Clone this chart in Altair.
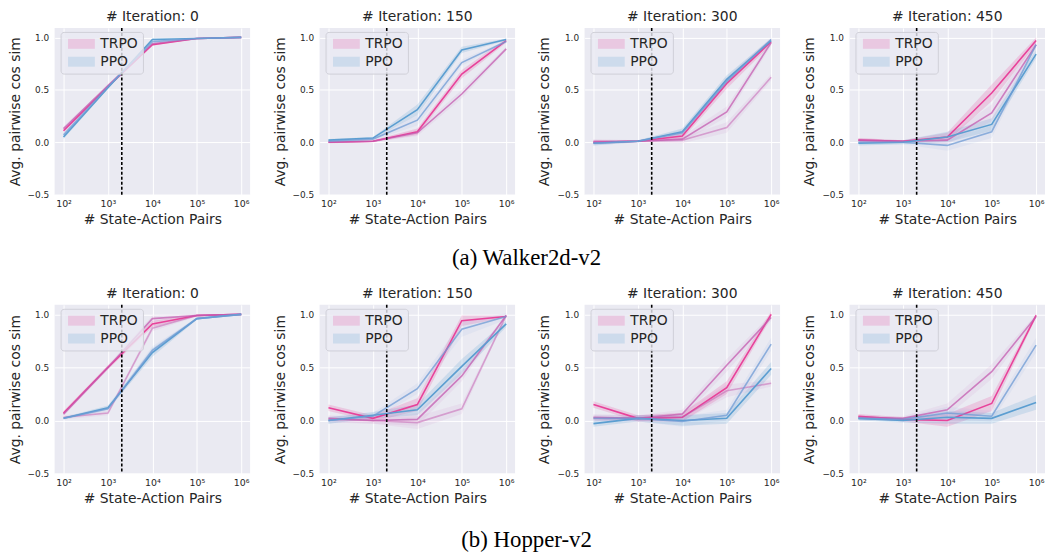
import altair as alt
import pandas as pd

# x positions: number of state-action pairs
X = [100, 1000, 10000, 100000, 1000000]
X_TICKS = [100, 1000, 10000, 100000, 1000000]
Y_TICKS = [-0.5, 0.0, 0.5, 1.0]
VLINE_X = [2048]
ALGOS = ["TRPO", "PPO"]
KEYS = ["TRPO", "PPO", "TRPO_2", "PPO_2"]
COLORS = ["#E8429A", "#5B9ED1", "#C45CB0", "#6F9BD4"]
ITERS = [0, 150, 300, 450]
CAPTIONS = ["(a) Walker2d-v2", "(b) Hopper-v2"]

# ---------------- Walker2d-v2 ----------------
W0_TRPO = [0.11, 0.53, 0.93, 0.99, 1.00]
W0_TRPO_2 = [0.13, 0.54, 0.94, 0.99, 1.00]
W0_TRPO_B = [0.02, 0.01, 0.01, 0.00, 0.00]
W0_PPO = [0.05, 0.52, 0.98, 0.99, 1.00]
W0_PPO_2 = [0.07, 0.53, 0.96, 0.99, 1.00]
W0_PPO_B = [0.02, 0.01, 0.01, 0.00, 0.00]

W150_TRPO = [0.00, 0.01, 0.10, 0.65, 0.97]
W150_TRPO_2 = [0.00, 0.01, 0.09, 0.46, 0.89]
W150_TRPO_B = [0.01, 0.01, 0.03, 0.04, 0.02]
W150_PPO = [0.02, 0.04, 0.31, 0.88, 0.98]
W150_PPO_2 = [0.01, 0.03, 0.21, 0.76, 0.96]
W150_PPO_B = [0.01, 0.01, 0.05, 0.03, 0.01]

W300_TRPO = [0.00, 0.01, 0.06, 0.56, 0.96]
W300_TRPO_2 = [0.00, 0.01, 0.03, 0.29, 0.95]
W300_TRPO_3 = [0.01, 0.01, 0.02, 0.14, 0.62]
W300_TRPO_B = [0.02, 0.01, 0.03, 0.05, 0.03]
W300_PPO = [-0.01, 0.01, 0.10, 0.60, 0.97]
W300_PPO_2 = [-0.01, 0.01, 0.09, 0.58, 0.98]
W300_PPO_B = [0.02, 0.01, 0.03, 0.04, 0.02]

W450_TRPO = [0.02, 0.01, 0.05, 0.47, 0.97]
W450_TRPO_2 = [0.02, 0.01, 0.02, 0.28, 0.93]
W450_TRPO_B = [0.02, 0.01, 0.04, 0.08, 0.03]
W450_PPO = [-0.01, 0.00, 0.05, 0.17, 0.84]
W450_PPO_2 = [0.00, 0.00, -0.03, 0.10, 0.93]
W450_PPO_B = [0.02, 0.02, 0.05, 0.06, 0.04]

# ---------------- Hopper-v2 ----------------
H0_TRPO = [0.07, 0.50, 0.91, 0.99, 1.00]
H0_TRPO_2 = [0.06, 0.50, 0.96, 0.99, 1.00]
H0_TRPO_3 = [0.03, 0.07, 0.87, 0.99, 1.00]
H0_TRPO_B = [0.02, 0.02, 0.03, 0.01, 0.00]
H0_PPO = [0.02, 0.12, 0.64, 0.96, 1.00]
H0_PPO_2 = [0.02, 0.11, 0.66, 0.96, 1.00]
H0_PPO_B = [0.01, 0.02, 0.04, 0.01, 0.00]

H150_TRPO = [0.12, 0.02, 0.15, 0.94, 0.98]
H150_TRPO_2 = [0.02, 0.00, 0.01, 0.42, 0.99]
H150_TRPO_3 = [0.01, 0.00, -0.02, 0.11, 0.99]
H150_TRPO_B = [0.03, 0.03, 0.06, 0.05, 0.01]
H150_PPO = [0.00, 0.05, 0.10, 0.51, 0.91]
H150_PPO_2 = [0.00, 0.04, 0.30, 0.86, 0.98]
H150_PPO_B = [0.03, 0.03, 0.05, 0.07, 0.03]

H300_TRPO = [0.15, 0.02, 0.03, 0.31, 1.00]
H300_TRPO_2 = [0.03, 0.02, 0.06, 0.52, 0.97]
H300_TRPO_3 = [0.02, 0.02, 0.03, 0.28, 0.35]
H300_TRPO_B = [0.03, 0.03, 0.04, 0.06, 0.03]
H300_PPO = [-0.03, 0.02, 0.00, 0.02, 0.49]
H300_PPO_2 = [0.02, 0.02, -0.01, 0.05, 0.72]
H300_PPO_B = [0.03, 0.03, 0.05, 0.05, 0.06]

H450_TRPO = [0.04, 0.01, 0.00, 0.16, 0.99]
H450_TRPO_2 = [0.03, 0.02, 0.10, 0.46, 0.98]
H450_TRPO_B = [0.02, 0.02, 0.06, 0.07, 0.02]
H450_PPO = [0.02, 0.00, 0.03, 0.02, 0.17]
H450_PPO_2 = [0.02, 0.01, 0.07, 0.04, 0.71]
H450_PPO_B = [0.02, 0.02, 0.06, 0.05, 0.07]

ROWS = [
    [  # Walker2d
        [("TRPO", [W0_TRPO, W0_TRPO_2], W0_TRPO_B), ("PPO", [W0_PPO, W0_PPO_2], W0_PPO_B)],
        [("TRPO", [W150_TRPO, W150_TRPO_2], W150_TRPO_B), ("PPO", [W150_PPO, W150_PPO_2], W150_PPO_B)],
        [("TRPO", [W300_TRPO, W300_TRPO_2, W300_TRPO_3], W300_TRPO_B), ("PPO", [W300_PPO, W300_PPO_2], W300_PPO_B)],
        [("TRPO", [W450_TRPO, W450_TRPO_2], W450_TRPO_B), ("PPO", [W450_PPO, W450_PPO_2], W450_PPO_B)],
    ],
    [  # Hopper
        [("TRPO", [H0_TRPO, H0_TRPO_2, H0_TRPO_3], H0_TRPO_B), ("PPO", [H0_PPO, H0_PPO_2], H0_PPO_B)],
        [("TRPO", [H150_TRPO, H150_TRPO_2, H150_TRPO_3], H150_TRPO_B), ("PPO", [H150_PPO, H150_PPO_2], H150_PPO_B)],
        [("TRPO", [H300_TRPO, H300_TRPO_2, H300_TRPO_3], H300_TRPO_B), ("PPO", [H300_PPO, H300_PPO_2], H300_PPO_B)],
        [("TRPO", [H450_TRPO, H450_TRPO_2], H450_TRPO_B), ("PPO", [H450_PPO, H450_PPO_2], H450_PPO_B)],
    ],
]
ROW_HEIGHTS = [168, 170]
CAPTION_OFFSETS = [20, 24]

TEXT = "#262626"
FONT = "DejaVu Sans"

x_scale = alt.Scale(type="log", domain=[10 ** 1.8, 10 ** 6.2], nice=False)
y_scale = alt.Scale(domain=[-0.5, 1.09], nice=False, zero=False)
color_scale = alt.Scale(domain=KEYS, range=COLORS)

x_axis = alt.Axis(
    values=X_TICKS,
    title="# State-Action Pairs",
    labelExpr="'10' + ['⁰','¹','²','³','⁴','⁵','⁶'][round(log(datum.value)/LN10)]",
    labelFontSize=9.5,
    labelPadding=4,
    titleFontSize=14,
    titlePadding=5,
)
y_axis = alt.Axis(
    values=Y_TICKS,
    format=".1f",
    title="Avg. pairwise cos sim",
    labelFontSize=9,
    labelPadding=6,
    titleFontSize=14,
    titlePadding=5,
)

legend = alt.Legend(
    title=None,
    values=ALGOS,
    orient="none",
    legendX=6,
    legendY=4,
    symbolType="M-2.7,-1H2.7V1H-2.7Z",
    symbolSize=100,
    symbolOffset=9,
    symbolOpacity=0.2,
    symbolStrokeWidth=0,
    labelFontSize=14,
    labelFont=FONT,
    labelColor=TEXT,
    labelOffset=12,
    rowPadding=4,
    padding=5,
    fillColor="rgba(234,234,242,0.8)",
    strokeColor="#d0d0d8",
    cornerRadius=3,
)


def panel_df(spec):
    rows = []
    for algo, variants, band in spec:
        for vi, vals in enumerate(variants):
            key = algo if vi == 0 else algo + "_2"
            for x, y, b in zip(X, vals, band):
                rows.append({"x": x, "y": y, "lo": y - b, "hi": y + b,
                             "algo": algo, "key": key, "variant": str(vi + 1)})
    return pd.DataFrame(rows)


def make_panel(spec, it, h):
    df = panel_df(spec)
    base = alt.Chart(df)
    main_band = base.transform_filter("datum.variant == '1'").mark_area(opacity=0.2).encode(
        x=alt.X("x:Q", scale=x_scale, axis=x_axis),
        y=alt.Y("lo:Q", scale=y_scale, axis=y_axis),
        y2="hi:Q",
        color=alt.Color("key:N", scale=color_scale, legend=legend),
    )
    faint_band = base.transform_filter("datum.variant != '1'").mark_area(opacity=0.08).encode(
        x=alt.X("x:Q", scale=x_scale, axis=x_axis),
        y=alt.Y("lo:Q", scale=y_scale, axis=y_axis),
        y2="hi:Q",
        color=alt.Color("key:N", scale=color_scale, legend=None),
        detail="variant:N",
    )
    lines = base.mark_line(strokeWidth=1.6).encode(
        x=alt.X("x:Q", scale=x_scale, axis=x_axis),
        y=alt.Y("y:Q", scale=y_scale, axis=y_axis),
        color=alt.Color("key:N", scale=color_scale, legend=None),
        opacity=alt.Opacity("variant:N", scale=alt.Scale(domain=["1", "2", "3"], range=[1.0, 0.5, 0.25]), legend=None),
        detail="variant:N",
    )
    rule = alt.Chart(pd.DataFrame({"x": VLINE_X})).mark_rule(
        color="black", strokeDash=[3, 2], strokeWidth=1.6
    ).encode(x=alt.X("x:Q", scale=x_scale, axis=x_axis))
    return alt.layer(main_band, faint_band, lines, rule).properties(
        width=197, height=h, title=f"# Iteration: {it}"
    )


rows = []
for row_spec, cap, h, off in zip(ROWS, CAPTIONS, ROW_HEIGHTS, CAPTION_OFFSETS):
    panels = [make_panel(spec, it, h) for spec, it in zip(row_spec, ITERS)]
    row = alt.hconcat(*panels, spacing=23).resolve_scale(color="independent").resolve_legend(
        color="independent"
    ).properties(
        title=alt.TitleParams(cap, orient="bottom", anchor="middle", font="Liberation Serif",
                              fontSize=23, fontWeight="normal", color="black", offset=off)
    )
    rows.append(row)

chart = alt.vconcat(*rows, spacing=17).resolve_scale(color="independent").resolve_legend(
    color="independent"
).properties(
    padding=0, background="white"
).configure_view(
    fill="#EAEAF2", strokeWidth=0
).configure_axis(
    grid=True, gridColor="white", gridWidth=1, domain=False, ticks=False,
    labelColor=TEXT, titleColor=TEXT, labelFont=FONT, titleFont=FONT,
    titleFontWeight="normal",
).configure_title(
    font=FONT, fontSize=14, fontWeight="normal", color=TEXT, offset=3
)

chart.save("out.html", embed_options={"renderer": "svg", "actions": False})
